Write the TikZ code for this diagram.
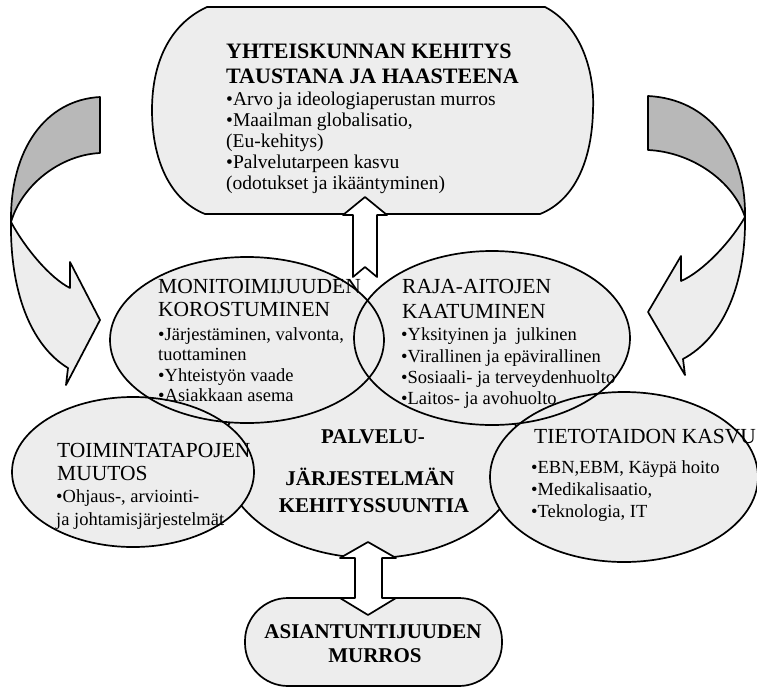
\documentclass[tikz,border=0pt]{standalone}
\usepackage{fontspec}
\setmainfont{Liberation Serif}
\begin{document}
\begin{tikzpicture}[x=1pt,y=-1pt,
  every node/.style={inner sep=0pt},
  outl/.style={draw=black, line width=1.7pt, line join=round},
  lightfill/.style={fill=black!7},
  darkfill/.style={fill=black!28},
  hb/.style={anchor=base west, font=\fontsize{22}{25}\selectfont\bfseries},
  hr/.style={anchor=base west, font=\fontsize{21.5}{25}\selectfont},
  bd/.style={anchor=base west, font=\fontsize{18.5}{21}\selectfont},
  bdt/.style={anchor=base west, font=\fontsize{19.5}{21}\selectfont},
  hc/.style={anchor=base, font=\fontsize{21}{25}\selectfont\bfseries}]
\useasboundingbox (0,0) rectangle (757,688);
\fill[white] (0,0) rectangle (757,688);

% top box
\path[outl,lightfill] (207,7) -- (545,7) .. controls (580,25) and (595,70) .. (593,110)
  .. controls (592,160) and (575,200) .. (540,214) -- (205,214)
  .. controls (170,200) and (152,160) .. (152,110)
  .. controls (152,65) and (168,25) .. (207,7) -- cycle;

% left curved arrow
\path[outl,darkfill] (100,97) -- (100,153) .. controls (60,155) and (22,185) .. (11,222)
  .. controls (10,150) and (45,100) .. (100,97) -- cycle;
\path[outl,lightfill] (11,222) .. controls (25,248) and (50,278) .. (70,288) -- (70,262) -- (100,320)
  -- (66,385) -- (68,368) .. controls (30,345) and (10,290) .. (11,222) -- cycle;

% right curved arrow
\path[outl,darkfill] (648,96) -- (648,150) .. controls (692,152) and (733,181) .. (745,217)
  .. controls (746,147) and (708,99) .. (648,96) -- cycle;
\path[outl,lightfill] (745,217) .. controls (730,243) and (702,272) .. (681,281) -- (681,256) -- (648,312)
  -- (685,375) -- (683,359) .. controls (724,337) and (746,283) .. (745,217) -- cycle;

% central ellipse
\path[outl,lightfill] (372,455) ellipse [x radius=150, y radius=103];
% outer ellipses
\fill[black!7] (247,340) ellipse [x radius=137, y radius=83];
\fill[black!7] (492,338) ellipse [x radius=138, y radius=87];
\fill[black!7] (133,472) ellipse [x radius=121, y radius=75];
\fill[black!7] (624,477) ellipse [x radius=134, y radius=85];
\draw[outl] (247,340) ellipse [x radius=137, y radius=83];
\draw[outl] (492,338) ellipse [x radius=138, y radius=87];
\draw[outl] (133,472) ellipse [x radius=121, y radius=75];
\draw[outl] (624,477) ellipse [x radius=134, y radius=85];

% up arrow
\path[outl,fill=white] (365,197) -- (387,215) -- (377,215) -- (377,277) -- (365,267) -- (353,277)
  -- (353,215) -- (343,215) -- cycle;

% bottom box
\path[outl,lightfill,rounded corners=43pt] (245,598) rectangle (502,686);
% double arrow
\path[outl,fill=white] (368,542) -- (396,558) -- (382,558) -- (382,598) -- (396,598) -- (368,615)
  -- (340,598) -- (355,598) -- (355,558) -- (340,558) -- cycle;

% texts: top box
\node[hb] (t1) at (226,58) {YHTEISKUNNAN KEHITYS};
\node[hb] (t2) at (226,83) {TAUSTANA JA HAASTEENA};
\node[bdt] (t3) at (226,105) {•Arvo ja ideologiaperustan murros};
\node[bdt] (t4) at (226,126) {•Maailman globalisatio,};
\node[bdt] (t5) at (226,147) {(Eu-kehitys)};
\node[bdt] (t6) at (226,168) {•Palvelutarpeen kasvu};
\node[bdt] (t7) at (226,189) {(odotukset ja ikääntyminen)};

% monitoimijuus
\node[hr] (m1) at (158,293) {MONITOIMIJUUDEN};
\node[hr] (m2) at (158,316) {KOROSTUMINEN};
\node[bd] (m3) at (158,340) {•Järjestäminen, valvonta,};
\node[bd] (m4) at (158,360) {tuottaminen};
\node[bd] (m5) at (158,381) {•Yhteistyön vaade};
\node[bd] (m6) at (158,401) {•Asiakkaan asema};

% raja-aidat
\node[hr] (r1) at (402,293) {RAJA-AITOJEN};
\node[hr] (r2) at (402,318) {KAATUMINEN};
\node[bd] (r3) at (401,340) {•Yksityinen ja\ \ julkinen};
\node[bd] (r4) at (401,362) {•Virallinen ja epävirallinen};
\node[bd] (r5) at (401,383) {•Sosiaali- ja terveydenhuolto};
\node[bd] (r6) at (401,404) {•Laitos- ja avohuolto};

% toimintatavat
\node[hr] (o1) at (57,457) {TOIMINTATAPOJEN};
\node[hr] (o2) at (57,480) {MUUTOS};
\node[bd] (o3) at (56,502) {•Ohjaus-, arviointi-};
\node[bd] (o4) at (56,525) {ja johtamisjärjestelmät};

% tietotaito
\node[hr] (k1) at (534,443) {TIETOTAIDON KASVU};
\node[bd] (k2) at (531,473) {•EBN,EBM, Käypä hoito};
\node[bd] (k3) at (531,495) {•Medikalisaatio,};
\node[bd] (k4) at (531,517) {•Teknologia, IT};

% centre
\node[hc] (p1) at (373,443) {PALVELU-};
\node[hc] (p2) at (370,485) {JÄRJESTELMÄN};
\node[hc] (p3) at (374,512) {KEHITYSSUUNTIA};

% bottom
\node[hc] (a1) at (373,638) {ASIANTUNTIJUUDEN};
\node[hc] (a2) at (375,662) {MURROS};
\end{tikzpicture}
\end{document}
